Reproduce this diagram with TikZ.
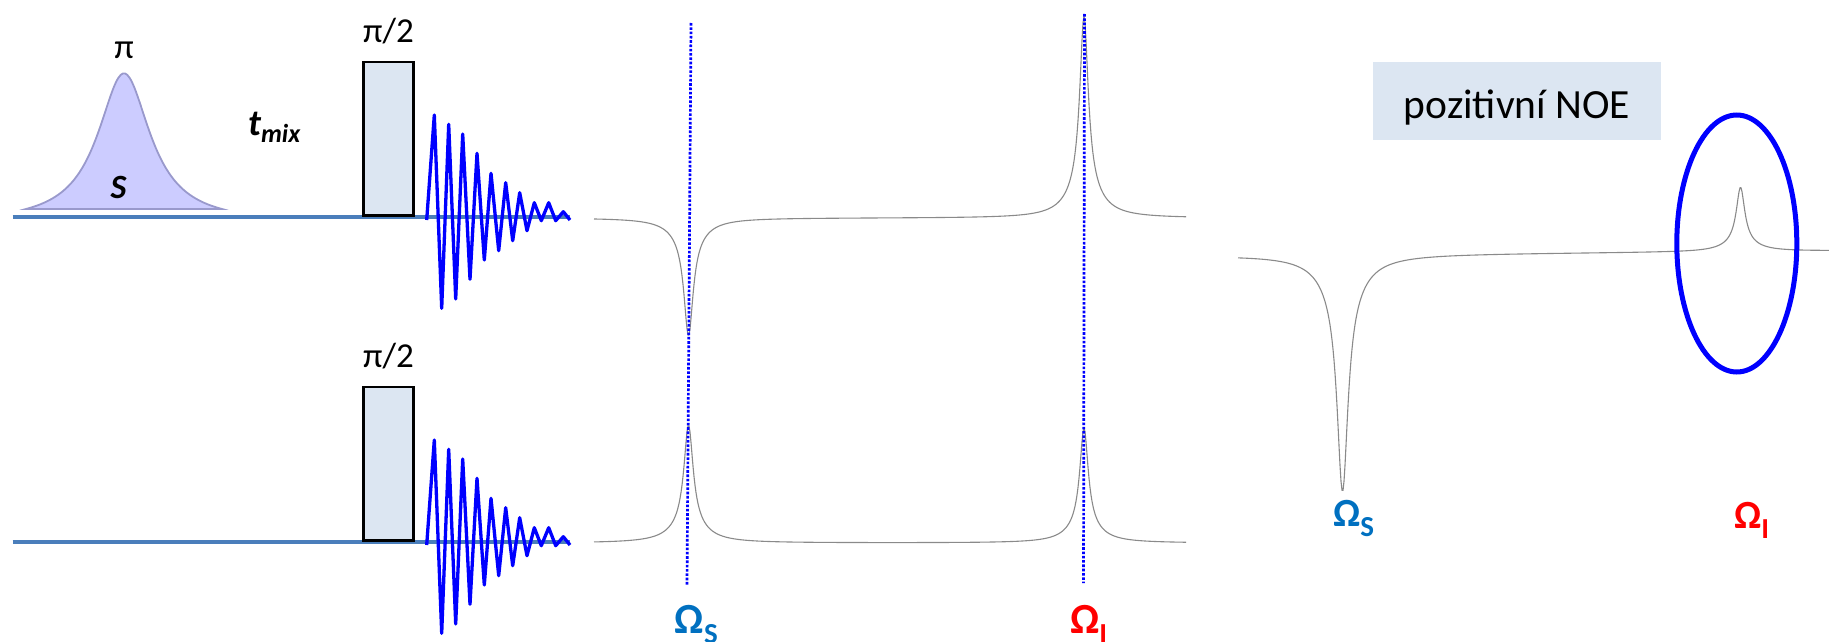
\documentclass[tikz,border=0pt]{standalone}
\usepackage{fontspec}
\setmainfont{Carlito}
\usepackage{tikz}
\usetikzlibrary{positioning,shapes.geometric}
\definecolor{rfblue}{HTML}{4A7EBB}
\definecolor{fidblue}{HTML}{0000FF}
\definecolor{pulsefill}{HTML}{DCE6F2}
\definecolor{selfill}{HTML}{CCCCFF}
\definecolor{seledge}{HTML}{9999CC}
\definecolor{tracegray}{HTML}{8A8A8A}
\definecolor{sblue}{HTML}{0070C0}
\definecolor{ired}{HTML}{FF0000}
\newcommand{\omlab}[1]{Ω\raisebox{-10pt}{\fontsize{29}{29}\selectfont #1}}
\tikzset{
  rfline/.style={draw=rfblue, line width=4pt},
  fidline/.style={draw=fidblue, line width=3.3pt, line join=round},
  hardpulse/.style={rectangle, draw=black, fill=pulsefill, line width=2.6pt,
    minimum width=49.8pt, minimum height=153.3pt, inner sep=0pt},
  softpulse/.style={draw=seledge, fill=selfill, line width=1.8pt},
  pulselbl/.style={font=\fontsize{35}{35}\selectfont, inner sep=0pt, anchor=base},
  spinlbl/.style={font=\fontsize{34}{34}\selectfont\bfseries\itshape,
    inner sep=0pt, anchor=base},
  spectrum/.style={draw=tracegray, line width=1.1pt, line join=round},
  guide/.style={draw=fidblue, line width=2.7pt,
    dash pattern=on 2.6pt off 1.7pt},
  omlabel/.style={text=#1, font=\fontsize{43}{43}\selectfont\bfseries,
    inner sep=0pt, anchor=base west},
  omlabel/.default=sblue,
  noebox/.style={rectangle, fill=pulsefill, inner sep=0pt,
    font=\fontsize{41.5}{41.5}\selectfont, minimum width=288pt,
    text height=56.7pt, text depth=21.3pt, anchor=base},
  ring/.style={ellipse, draw=fidblue, line width=5pt, inner sep=0pt,
    minimum width=120pt, minimum height=257pt},
  fid/.pic={
    \draw[fidline] plot coordinates {(0,0) (7.6,-105) (15,88.3) (22,-95.7)
      (29,79) (36,-86) (43.3,59.3) (50.3,-66.7) (57.6,40) (64.3,-46.7)
      (72,30.7) (79,-37.3) (86,20.7) (93,-27.3) (100.3,10.7) (107.6,-17.3)
      (114.6,0.7) (122,-17.3) (129,0.7) (136.6,-8.3) (143.3,0)};
  },
}

\begin{document}
\begin{tikzpicture}[x=1pt, y=-1pt,
  declare function={lor(\xa,\xc,\xw)=1/(1+((\xa-\xc)/\xw)^2);
    pk(\xa,\xc,\xw)=0.85*lor(\xa,\xc,\xw)+0.15*lor(\xa,\xc,3.5*\xw);}]
\useasboundingbox (0,0) rectangle (1829,642);

\foreach \dy/\rw in {0/a,325/b}{
  \draw[rfline] (12.7,{216.7+\dy}) -- (570,{216.7+\dy});
  \node[hardpulse] (p90\rw) at (388.5,{138.65+\dy}) {};
  \node[pulselbl] (lbl90\rw) at ([yshift=18pt]p90\rw.north) {π/2};
  \pic at (426.7,{220+\dy}) {fid};
}

\draw[softpulse] plot[domain=26:222, samples=90, smooth]
  (\x, {209-135.7*(lor(\x,124,32)-0.0963)/(1-0.0963)}) -- cycle;
\node[pulselbl] (lbl180) at (124,58.3) {π};
\node[spinlbl] (sel) at (118.5,198.5) {S};
\node[inner sep=0pt, anchor=base west,
  font=\fontsize{37}{37}\selectfont\bfseries\itshape] (tmix) at (248,135)
  {t\raisebox{-7pt}{\fontsize{26}{26}\selectfont mix}};

\draw[spectrum] plot[domain=594:1186, samples=593]
  (\x, {218+118*pk(\x,688.5,5.5)-202*pk(\x,1084,5)});
\draw[spectrum] plot[domain=594:1186, samples=593]
  (\x, {543-118*pk(\x,688.5,5.5)-115*pk(\x,1084,5)});

\coordinate (sTop) at (691,23);
\coordinate (sBot) at (687,585);
\coordinate (iTop) at (1084.5,14);
\coordinate (iBot) at (1083.5,583);
\draw[guide] (sTop) -- (sBot);
\draw[guide] (iTop) -- (iBot);
\node[omlabel] (omsA) at (674.6,633) {\omlab{S}};
\node[omlabel=ired] (omiA) at (1070,633) {\omlab{I}};

\node[noebox] (noe) at (1517,118.7) {pozitivní NOE};
\draw[spectrum] plot[domain=1238:1829, samples=592]
  (\x, {255.5-0.008*(\x-1238)+237*pk(\x,1342.5,6.5)-64.5*pk(\x,1740.5,5)});
\node[ring] (focus) at (1736.8,243.5) {};
\node[omlabel, font=\fontsize{40}{40}\selectfont\bfseries] (omsB) at (1333,526.7) {\omlab{S}};
\node[omlabel=ired, font=\fontsize{40}{40}\selectfont\bfseries] (omiB) at (1734,528) {\omlab{I}};
\end{tikzpicture}
\end{document}
